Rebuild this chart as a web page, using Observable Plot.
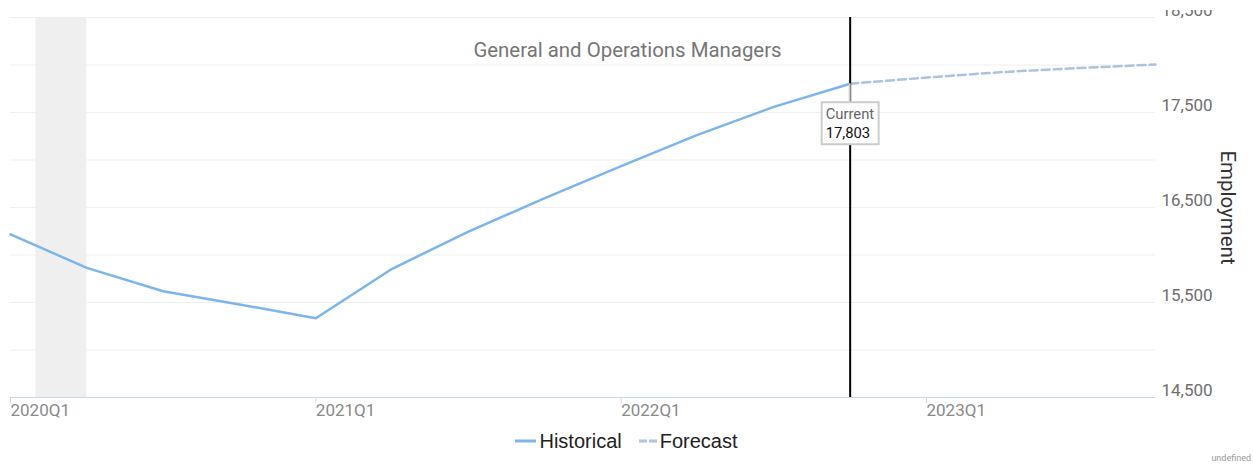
<!DOCTYPE html>
<html>
<head>
<meta charset="utf-8">
<script src="https://cdn.jsdelivr.net/npm/d3@7"></script>
<script src="https://cdn.jsdelivr.net/npm/@observablehq/plot@0.6"></script>
<style>
  body { margin: 0; background: #fff; font-family: Roboto, sans-serif; }
  #wrap { position: relative; width: 1253px; height: 466px; overflow: hidden; }
  #chart { position: absolute; left: 0; top: 10px; }
  #title { position: absolute; left: 0; width: 1255px; top: 37.5px; text-align: center; font-size: 20.4px; color: #757575; line-height: 24px; }
  #legend { position: absolute; left: 0; width: 1253px; top: 429px; display: flex; justify-content: center; align-items: center;
            font-family: "Liberation Sans", Arial, sans-serif; font-size: 20px; color: #222; line-height: 24px; }
  #legend .item { display: flex; align-items: center; margin: 0 8.5px; }
  #legend svg { margin-right: 3px; }
  #credit { position: absolute; right: 2px; top: 453px; font-size: 9px; color: #999; }
</style>
</head>
<body>
<div id="wrap">
  <div id="chart"></div>
  <div id="title"></div>
  <div id="legend"></div>
  <div id="credit">undefined</div>
</div>
<script>
// ---- data ----
const quarters = ["2020Q1","2020Q2","2020Q3","2020Q4","2021Q1","2021Q2","2021Q3","2021Q4",
                  "2022Q1","2022Q2","2022Q3","2022Q4","2023Q1","2023Q2","2023Q3","2023Q4"];
const historicalQuarters = ["2020Q1","2020Q2","2020Q3","2020Q4","2021Q1","2021Q2","2021Q3","2021Q4",
                            "2022Q1","2022Q2","2022Q3","2022Q4"];
const historical = [16217, 15865, 15619, 15479, 15335, 15855, 16247, 16598, 16935, 17264, 17559, 17803];
const forecastQuarters = ["2022Q4","2023Q1","2023Q2","2023Q3","2023Q4"];
const forecast = [17803, 17868, 17926, 17968, 18005];
const xTickLabels = ["2020Q1","2021Q1","2022Q1","2023Q1"];
const yTickLabels = [14500, 15500, 16500, 17500, 18500];
const yGridValues = [14500, 15000, 15500, 16000, 16500, 17000, 17500, 18000, 18500];
const yDomain = [14500, 18500];
// recession band, in quarter index units (Feb 2020 to Apr 2020)
const recessionStart = [1/3];
const recessionEnd = [1];
const currentQuarter = "2022Q4";
const currentValue = 17803;
const titleText = "General and Operations Managers";
const yLabel = "Employment";
const seriesNames = ["Historical", "Forecast"];

// ---- build tables ----
const qi = q => quarters.indexOf(q);
const histData = historical.map((v, k) => ({i: qi(historicalQuarters[k]), v}));
const foreData = forecast.map((v, k) => ({i: qi(forecastQuarters[k]), v}));
const band = recessionStart.map((s, k) => ({start: s, end: recessionEnd[k]}));
const fmt = d3.format(",");

function tooltipMark(index, scales) {
  const cx = scales.x(qi(currentQuarter));
  const cy = scales.y(currentValue);
  const g = d3.create("svg:g").attr("text-anchor", "start");
  g.append("line").attr("x1", cx).attr("x2", cx).attr("y1", cy).attr("y2", cy + 19)
    .attr("stroke", "#cccccc").attr("stroke-width", 2);
  g.append("rect").attr("x", cx - 28).attr("y", cy + 19).attr("width", 57).attr("height", 42)
    .attr("fill", "#ffffff").attr("stroke", "#cccccc").attr("stroke-width", 2);
  g.append("text").attr("x", cx - 24).attr("y", cy + 36).attr("font-size", 14.8)
    .attr("font-family", "Roboto").attr("text-anchor", "start").attr("fill", "#666").text("Current");
  g.append("text").attr("x", cx - 24).attr("y", cy + 54.5).attr("font-size", 14.8)
    .attr("font-family", "Roboto").attr("text-anchor", "start").attr("fill", "#111").text(fmt(currentValue));
  return g.node();
}

const chart = Plot.plot({
  width: 1253,
  height: 420,
  marginTop: 7,
  marginBottom: 33,
  marginLeft: 10,
  marginRight: 98,
  style: {fontFamily: "Roboto", overflow: "hidden", background: "transparent"},
  x: {type: "linear", domain: [0, quarters.length - 1]},
  y: {domain: yDomain},
  marks: [
    Plot.rect(band, {x1: "start", x2: "end", fill: "#efefef"}),
    Plot.gridY(yGridValues, {stroke: "#efefef", strokeOpacity: 1}),
    Plot.ruleY([yDomain[0]], {stroke: "#ccd6eb"}),
    Plot.axisX(xTickLabels.map(qi), {tickFormat: i => quarters[i], textAnchor: "start", dx: 0,
      tickSize: 6, tickPadding: 0, stroke: "#ccd6eb", fill: "#8a8a8a", fontSize: 17, label: null}),
    Plot.axisY(yTickLabels, {anchor: "right", tickSize: 0, tickPadding: 6, dy: -7, tickFormat: fmt,
      fill: "#6e6e6e", fontSize: 17, label: null}),
    Plot.line(histData, {x: "i", y: "v", stroke: "#7cb5ec", strokeWidth: 2.5}),
    Plot.line(foreData, {x: "i", y: "v", stroke: "#adc2dd", strokeWidth: 2.5, strokeDasharray: "8,4"}),
    Plot.ruleX([qi(currentQuarter)], {stroke: "#000", strokeWidth: 2}),
    tooltipMark,
    Plot.text([yLabel], {frameAnchor: "right", textAnchor: "middle", rotate: 90, dx: 72, fontSize: 20.5, fill: "#333"})
  ]
});
document.getElementById("chart").appendChild(chart);
document.getElementById("title").textContent = titleText;

// legend
const legend = document.getElementById("legend");
const swatches = [
  {stroke: "#7cb5ec", dash: null, w: 21},
  {stroke: "#b0c4de", dash: "8,2", w: 18}
];
seriesNames.forEach((name, k) => {
  const item = document.createElement("span");
  item.className = "item";
  const s = swatches[k];
  item.innerHTML = `<svg width="${s.w}" height="10"><line x1="0" x2="${s.w}" y1="5" y2="5" stroke="${s.stroke}" stroke-width="3" ${s.dash ? `stroke-dasharray="${s.dash}"` : ""}/></svg><span>${name}</span>`;
  legend.appendChild(item);
});
</script>
</body>
</html>
